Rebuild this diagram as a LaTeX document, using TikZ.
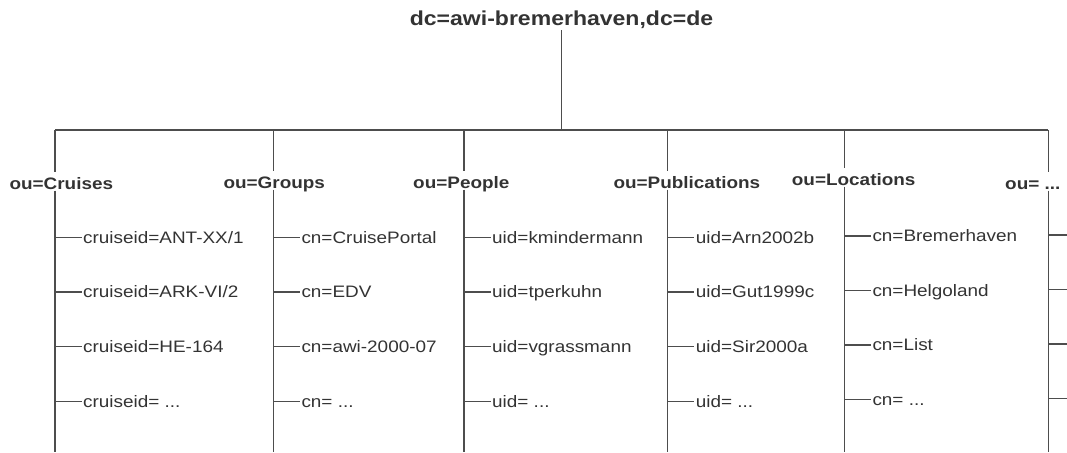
\documentclass[tikz,border=0pt]{standalone}
\usepackage{fontspec}
\newfontfamily\treefont[FakeStretch=1.14]{Liberation Sans}
\definecolor{inkgray}{HTML}{333333}
\definecolor{linegray}{HTML}{4D4D4D}

\newcommand{\barY}{130}
\newcommand{\botY}{452}
\newcommand{\ouY}{189}
\newcommand{\rowA}{237.3}
\newcommand{\rowB}{292}
\newcommand{\rowC}{346.7}
\newcommand{\rowD}{401.5}

\tikzset{
  rootlabel/.style={font=\treefont\fontsize{20.2}{23}\selectfont\bfseries, text=inkgray,
    inner sep=0pt, text depth=4pt, anchor=base},
  oulabel/.style={font=\treefont\fontsize{16.6}{19}\selectfont\bfseries, text=inkgray,
    inner sep=0pt, text height=17pt, text depth=1.5pt, anchor=base west},
  leaf/.style={font=\treefont\fontsize{16.6}{19}\selectfont, text=inkgray,
    inner ysep=0pt, inner xsep=1.5pt, text height=11.9pt, text depth=0pt, anchor=west},
  branch/.style={draw=linegray, line width=1.2pt}
}

\begin{document}
\begin{tikzpicture}[x=1pt, y=-1pt]
    \useasboundingbox (0,0) rectangle (1067,452);

    % Root.
    \node[rootlabel] (root) at (561.5,26) {dc=awi-bremerhaven,dc=de};

    % Columns.
    \coordinate (top1) at (55   ,\barY);
    \coordinate (top2) at (273.3,\barY);
    \coordinate (top3) at (464  ,\barY);
    \coordinate (top4) at (667.7,\barY);
    \coordinate (top5) at (844.3,\barY);
    \coordinate (top6) at (1048.3,\barY);

    \node[oulabel] (ou1) at (9.3  ,\ouY) {ou=Cruises};
    \node[oulabel] (ou2) at (223.3,188) {ou=Groups};
    \node[oulabel] (ou3) at (413  ,188) {ou=People};
    \node[oulabel] (ou4) at (613.3,188) {ou=Publications};
    \node[oulabel] (ou5) at (791.7,185) {ou=Locations};
    \node[oulabel] (ou6) at (1005 ,\ouY) {ou= ...};

    % Cruises.
    \node[leaf] (c1-1) at (81.5,\rowA) {cruiseid=ANT-XX/1};
    \node[leaf] (c1-2) at (81.5,\rowB) {cruiseid=ARK-VI/2};
    \node[leaf] (c1-3) at (81.5,\rowC) {cruiseid=HE-164};
    \node[leaf] (c1-4) at (81.5,\rowD) {cruiseid= ...};

    % Groups.
    \node[leaf] (c2-1) at (299.8,\rowA) {cn=CruisePortal};
    \node[leaf] (c2-2) at (299.8,\rowB) {cn=EDV};
    \node[leaf] (c2-3) at (299.8,\rowC) {cn=awi-2000-07};
    \node[leaf] (c2-4) at (299.8,\rowD) {cn= ...};

    % People.
    \node[leaf] (c3-1) at (490.5,\rowA) {uid=kmindermann};
    \node[leaf] (c3-2) at (490.5,\rowB) {uid=tperkuhn};
    \node[leaf] (c3-3) at (490.5,\rowC) {uid=vgrassmann};
    \node[leaf] (c3-4) at (490.5,\rowD) {uid= ...};

    % Publications.
    \node[leaf] (c4-1) at (694.2,\rowA) {uid=Arn2002b};
    \node[leaf] (c4-2) at (694.2,\rowB) {uid=Gut1999c};
    \node[leaf] (c4-3) at (694.2,\rowC) {uid=Sir2000a};
    \node[leaf] (c4-4) at (694.2,\rowD) {uid= ...};

    % Locations.
    \node[leaf] (c5-1) at (870.8,236)   {cn=Bremerhaven};
    \node[leaf] (c5-2) at (870.8,290.5) {cn=Helgoland};
    \node[leaf] (c5-3) at (870.8,345)   {cn=List};
    \node[leaf] (c5-4) at (870.8,399.5) {cn= ...};

    % More, cut off at the right.
    \coordinate (c6-1) at (1067,235);
    \coordinate (c6-2) at (1067,289.5);
    \coordinate (c6-3) at (1067,344);
    \coordinate (c6-4) at (1067,398.5);

    % Trunk and bar.
    \draw[branch] (root.south) -- (root.south |- top1);
    \draw[branch] (top1) -- (top6);

    % Columns down to the bottom edge.
    \draw[branch] (top1) -- (top1 |- ou1.north);
    \draw[branch] (top1 |- ou1.south) -- (top1 |- 0,\botY);
    \draw[branch] (top2) -- (top2 |- ou2.north);
    \draw[branch] (top2 |- ou2.south) -- (top2 |- 0,\botY);
    \draw[branch] (top3) -- (top3 |- ou3.north);
    \draw[branch] (top3 |- ou3.south) -- (top3 |- 0,\botY);
    \draw[branch] (top4) -- (top4 |- ou4.north);
    \draw[branch] (top4 |- ou4.south) -- (top4 |- 0,\botY);
    \draw[branch] (top5) -- (top5 |- ou5.north);
    \draw[branch] (top5 |- ou5.south) -- (top5 |- 0,\botY);
    \draw[branch] (top6) -- (top6 |- ou6.north);
    \draw[branch] (top6 |- ou6.south) -- (top6 |- 0,\botY);

    % Stubs to the entries.
    \draw[branch] (c1-1.west -| top1) -- (c1-1.west);
    \draw[branch] (c1-2.west -| top1) -- (c1-2.west);
    \draw[branch] (c1-3.west -| top1) -- (c1-3.west);
    \draw[branch] (c1-4.west -| top1) -- (c1-4.west);
    \draw[branch] (c2-1.west -| top2) -- (c2-1.west);
    \draw[branch] (c2-2.west -| top2) -- (c2-2.west);
    \draw[branch] (c2-3.west -| top2) -- (c2-3.west);
    \draw[branch] (c2-4.west -| top2) -- (c2-4.west);
    \draw[branch] (c3-1.west -| top3) -- (c3-1.west);
    \draw[branch] (c3-2.west -| top3) -- (c3-2.west);
    \draw[branch] (c3-3.west -| top3) -- (c3-3.west);
    \draw[branch] (c3-4.west -| top3) -- (c3-4.west);
    \draw[branch] (c4-1.west -| top4) -- (c4-1.west);
    \draw[branch] (c4-2.west -| top4) -- (c4-2.west);
    \draw[branch] (c4-3.west -| top4) -- (c4-3.west);
    \draw[branch] (c4-4.west -| top4) -- (c4-4.west);
    \draw[branch] (c5-1.west -| top5) -- (c5-1.west);
    \draw[branch] (c5-2.west -| top5) -- (c5-2.west);
    \draw[branch] (c5-3.west -| top5) -- (c5-3.west);
    \draw[branch] (c5-4.west -| top5) -- (c5-4.west);
    \draw[branch] (c6-1 -| top6) -- (c6-1);
    \draw[branch] (c6-2 -| top6) -- (c6-2);
    \draw[branch] (c6-3 -| top6) -- (c6-3);
    \draw[branch] (c6-4 -| top6) -- (c6-4);

\end{tikzpicture}
\end{document}
